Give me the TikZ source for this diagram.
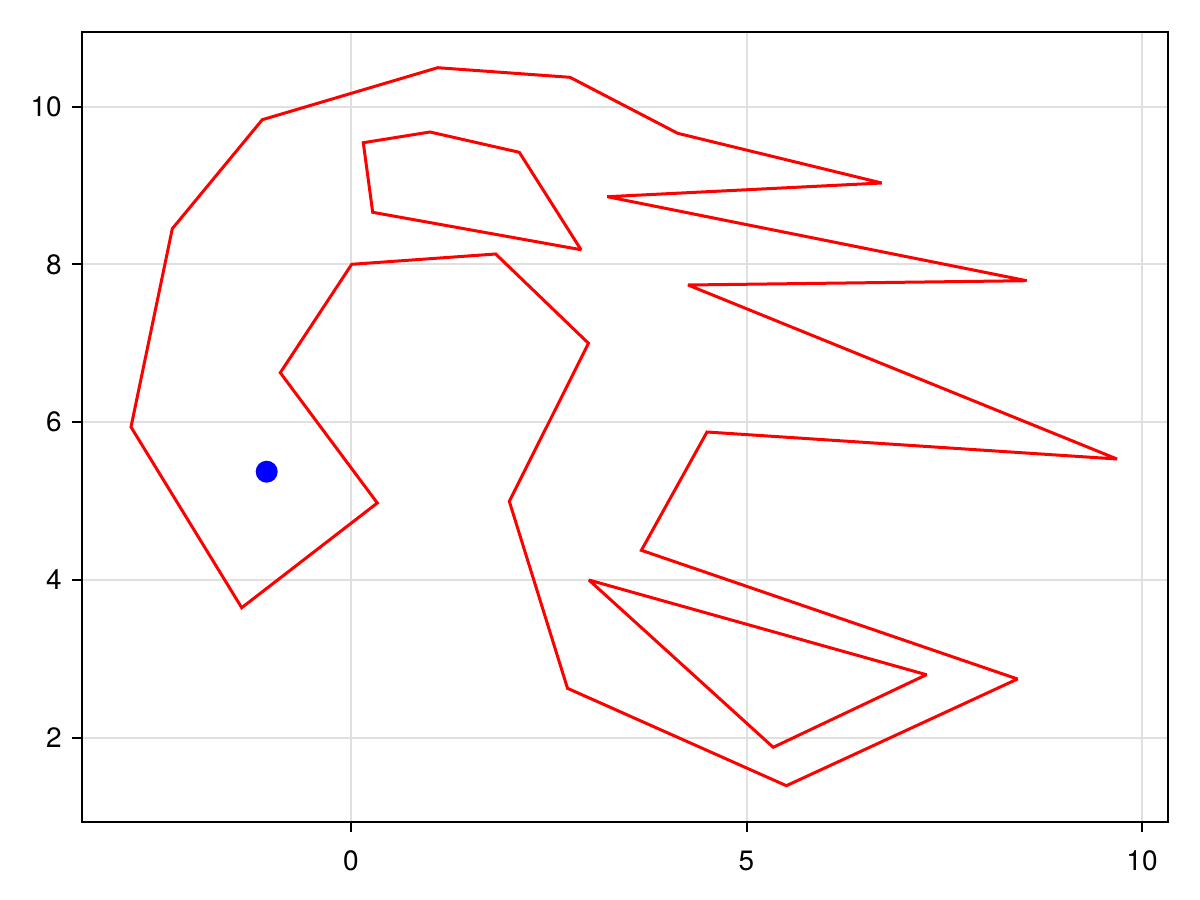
\documentclass[tikz,border=0pt]{standalone}
\usepackage{fontspec}
\setmainfont{TeX Gyre Heros}
\definecolor{gridgray}{RGB}{224,224,224}
\begin{document}
\begin{tikzpicture}[x=1pt,y=-1pt,
  gridline/.style={draw=gridgray,line width=2pt},
  spine/.style={draw=black,line width=2pt},
  tickmark/.style={draw=black,line width=2pt},
  poly/.style={draw=red,line width=3pt,line join=miter,miter limit=2},
  ticklabel/.style={inner sep=0pt,font=\fontsize{28}{34}\selectfont}]
\useasboundingbox (0,0) rectangle (1200,900);
% grid
\foreach \gx in {351,746.5,1142} \draw[gridline] (\gx,32) -- (\gx,822);
\foreach \gy in {106.7,264.3,422.2,580,737.7} \draw[gridline] (82,\gy) -- (1168,\gy);
% outer polygon
\draw[poly] (262.3,119.7) -- (437.7,67.7) -- (570,77.3) -- (677.7,133.3) -- (881.7,183)
  -- (607.3,196.7) -- (1026.6,280.7) -- (688,285) -- (1117,459) -- (707,432)
  -- (641.4,550.3) -- (1017.5,679) -- (786.4,785.7) -- (567.5,688.3) -- (509.3,501.3)
  -- (588.5,343.3) -- (495.7,254) -- (351.7,264.3) -- (280.3,372.7) -- (377.3,503)
  -- (241.7,607.7) -- (131,427) -- (172.3,228.7) -- cycle;
% inner polygons
\draw[poly] (363.3,142.7) -- (430,132) -- (519.3,152.3) -- (581,249.7) -- (372.7,212.3) -- cycle;
\draw[poly] (588.9,580) -- (926.4,674.7) -- (773.2,747.3) -- cycle;
% point
\fill[blue] (266.7,471.7) circle[radius=11];
% frame
\draw[spine] (82,32) rectangle (1168,822);
% ticks and labels
\foreach \gx/\lab/\nm in {351/0/xa,746.5/5/xb,1142/10/xc} {
  \draw[tickmark] (\gx,822) -- (\gx,832);
  \node[ticklabel,anchor=base] (\nm) at (\gx,870) {\lab};
}
\foreach \gy/\lab/\nm in {106.7/10/ya,264.3/8/yb,422.2/6/yc,580/4/yd,737.7/2/ye} {
  \draw[tickmark] (82,\gy) -- (72,\gy);
  \node[ticklabel,anchor=east] (\nm) at (62,\gy) {\lab};
}
\end{tikzpicture}
\end{document}
